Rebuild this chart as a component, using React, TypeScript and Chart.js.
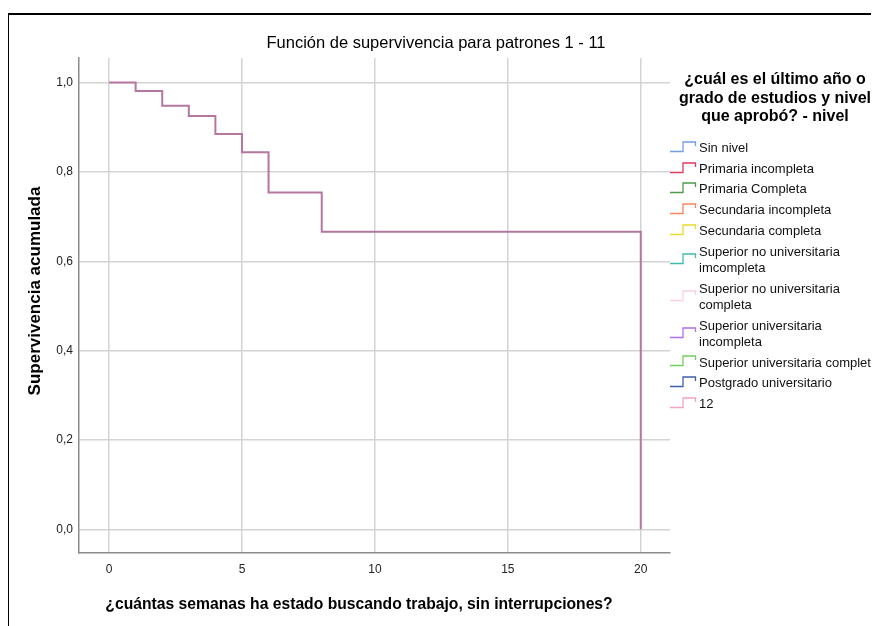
import { useEffect, useRef, useState } from "react";
import { Chart, registerables } from "chart.js";

Chart.register(...registerables);

// ---- data ----
const chartTitle = "Función de supervivencia para patrones 1 - 11";
const xAxisTitle = "¿cuántas semanas ha estado buscando trabajo, sin interrupciones?";
const yAxisTitle = "Supervivencia acumulada";
const weeks = [0, 1, 2, 3, 4, 5, 6, 8, 20, 20];
const survival = [1.0, 0.981, 0.948, 0.925, 0.885, 0.844, 0.754, 0.666, 0.666, 0.0];
const xTickValues = [0, 5, 10, 15, 20];
const yTickValues = [0, 0.2, 0.4, 0.6, 0.8, 1.0];
const legendTitle = ["¿cuál es el último año o", "grado de estudios y nivel", "que aprobó? - nivel"];
const groupLabels = [
  ["Sin nivel"],
  ["Primaria incompleta"],
  ["Primaria Completa"],
  ["Secundaria incompleta"],
  ["Secundaria completa"],
  ["Superior no universitaria", "imcompleta"],
  ["Superior no universitaria", "completa"],
  ["Superior universitaria", "incompleta"],
  ["Superior universitaria completa"],
  ["Postgrado universitario"],
  ["12"],
];
const groupColors = [
  "#6f9fe6",
  "#e03a5c",
  "#4c9b4c",
  "#f5855c",
  "#e6dc2e",
  "#3fbcae",
  "#fccfe2",
  "#b06ef0",
  "#72cf5e",
  "#3f5fae",
  "#f3a2c4",
];
const curveColor = "#b5769f";

const FONT = "'Liberation Sans', Arial, Helvetica, sans-serif";

const annotationPlugin = {
  id: "spssLegendAndTitles",
  afterDraw(chart: any) {
    const ctx = chart.ctx as CanvasRenderingContext2D;
    ctx.save();
    // axis titles
    ctx.fillStyle = "#000";
    ctx.textAlign = "center";
    ctx.textBaseline = "middle";
    ctx.font = `bold 15.7px ${FONT}`;
    ctx.fillText(xAxisTitle, 359, 605);
    ctx.save();
    ctx.translate(35, 291);
    ctx.rotate(-Math.PI / 2);
    ctx.font = `bold 17px ${FONT}`;
    ctx.fillText(yAxisTitle, 0, 0);
    ctx.restore();
    // legend
    ctx.font = `bold 16px ${FONT}`;
    legendTitle.forEach((t, i) => ctx.fillText(t, 775, 80 + i * 18.5));
    ctx.font = `13px ${FONT}`;
    ctx.textAlign = "left";
    let y = 148.5;
    const lh = 16.5;
    groupLabels.forEach((lines, i) => {
      const n = lines.length;
      const c = y + ((n - 1) * lh) / 2;
      const bottom = Math.round(c + 2.5) + 0.5;
      const top = bottom - 9.5;
      ctx.strokeStyle = groupColors[i];
      ctx.lineWidth = 1.3;
      ctx.beginPath();
      ctx.moveTo(670, bottom);
      ctx.lineTo(683, bottom);
      ctx.lineTo(683, top);
      ctx.lineTo(695.5, top);
      ctx.lineTo(695.5, top + 4);
      ctx.stroke();
      ctx.fillStyle = "#111";
      lines.forEach((l, j) => ctx.fillText(l, 699, y + j * lh));
      y += n === 1 ? 20.7 : 37;
    });
    ctx.restore();
  },
};

export default function App() {
  const ref = useRef<HTMLCanvasElement | null>(null);
  const [err, setErr] = useState("");
  useEffect(() => {
    if (!ref.current) return;
    let chart: Chart | null = null;
    try {
      chart = new Chart(ref.current, {
        type: "line",
        data: {
          datasets: [
            {
              label: "Supervivencia",
              data: weeks.map((w, i) => ({ x: w, y: survival[i] })),
              borderColor: curveColor,
              borderWidth: 2,
              pointRadius: 0,
              stepped: "before",
              fill: false,
            },
          ],
        },
        options: {
          animation: false,
          responsive: false,
          layout: { padding: { left: 0, right: 7, top: 0, bottom: 0 } },
          plugins: {
            legend: { display: false },
            tooltip: { enabled: false },
            title: {
              display: true,
              text: chartTitle,
              color: "#000",
              font: { family: FONT, size: 16.5, weight: "normal" },
              padding: { top: 33.1, bottom: 5.1 },
            },
          },
          scales: {
            x: {
              type: "linear",
              min: -1.13,
              max: 21.1,
              afterBuildTicks: (s: any) => {
                s.ticks = xTickValues.map((v) => ({ value: v }));
              },
              afterFit: (s: any) => {
                s.height = 73;
              },
              grid: { color: "#d3d3d3", lineWidth: 1.5, drawTicks: false },
              border: { color: "#8c8c8c", width: 1.5 },
              ticks: {
                color: "#222",
                padding: 9,
                font: { family: FONT, size: 12 },
                callback: (v: any) => String(v),
              },
            },
            y: {
              type: "linear",
              min: -0.053,
              max: 1.055,
              afterBuildTicks: (s: any) => {
                s.ticks = yTickValues.map((v) => ({ value: v }));
              },
              afterFit: (s: any) => {
                s.width = 79;
              },
              grid: { color: "#d3d3d3", lineWidth: 1.5, drawTicks: false },
              border: { color: "#8c8c8c", width: 1.5 },
              ticks: {
                color: "#222",
                padding: 6,
                font: { family: FONT, size: 12 },
                callback: (v: any) => Number(v).toFixed(1).replace(".", ","),
              },
            },
            y2: {
              type: "linear",
              position: "right",
              axis: "y",
              display: true,
              grid: { display: false, drawTicks: false },
              border: { display: false },
              ticks: { display: false },
              afterFit: (s: any) => {
                s.width = 202;
              },
            },
          },
        } as any,
        plugins: [annotationPlugin],
      });
    } catch (e: any) {
      setErr(String(e && e.stack ? e.stack : e));
    }
    return () => {
      if (chart) chart.destroy();
    };
  }, []);
  return (
    <div style={{ position: "relative", left: -8, top: -8, width: 879, height: 626 }}>
      <div
        style={{
          position: "absolute",
          left: 7,
          top: 13,
          width: 872,
          height: 613,
          borderLeft: "2px solid #000",
          borderTop: "2px solid #000",
          boxSizing: "border-box",
        }}
      />
      <canvas
        ref={ref}
        width={879}
        height={626}
        style={{ position: "absolute", left: 0, top: 0, display: "block" }}
      />
      {err ? (
        <pre style={{ position: "absolute", left: 20, top: 20, fontSize: 10, whiteSpace: "pre-wrap" }}>{err}</pre>
      ) : null}
    </div>
  );
}
